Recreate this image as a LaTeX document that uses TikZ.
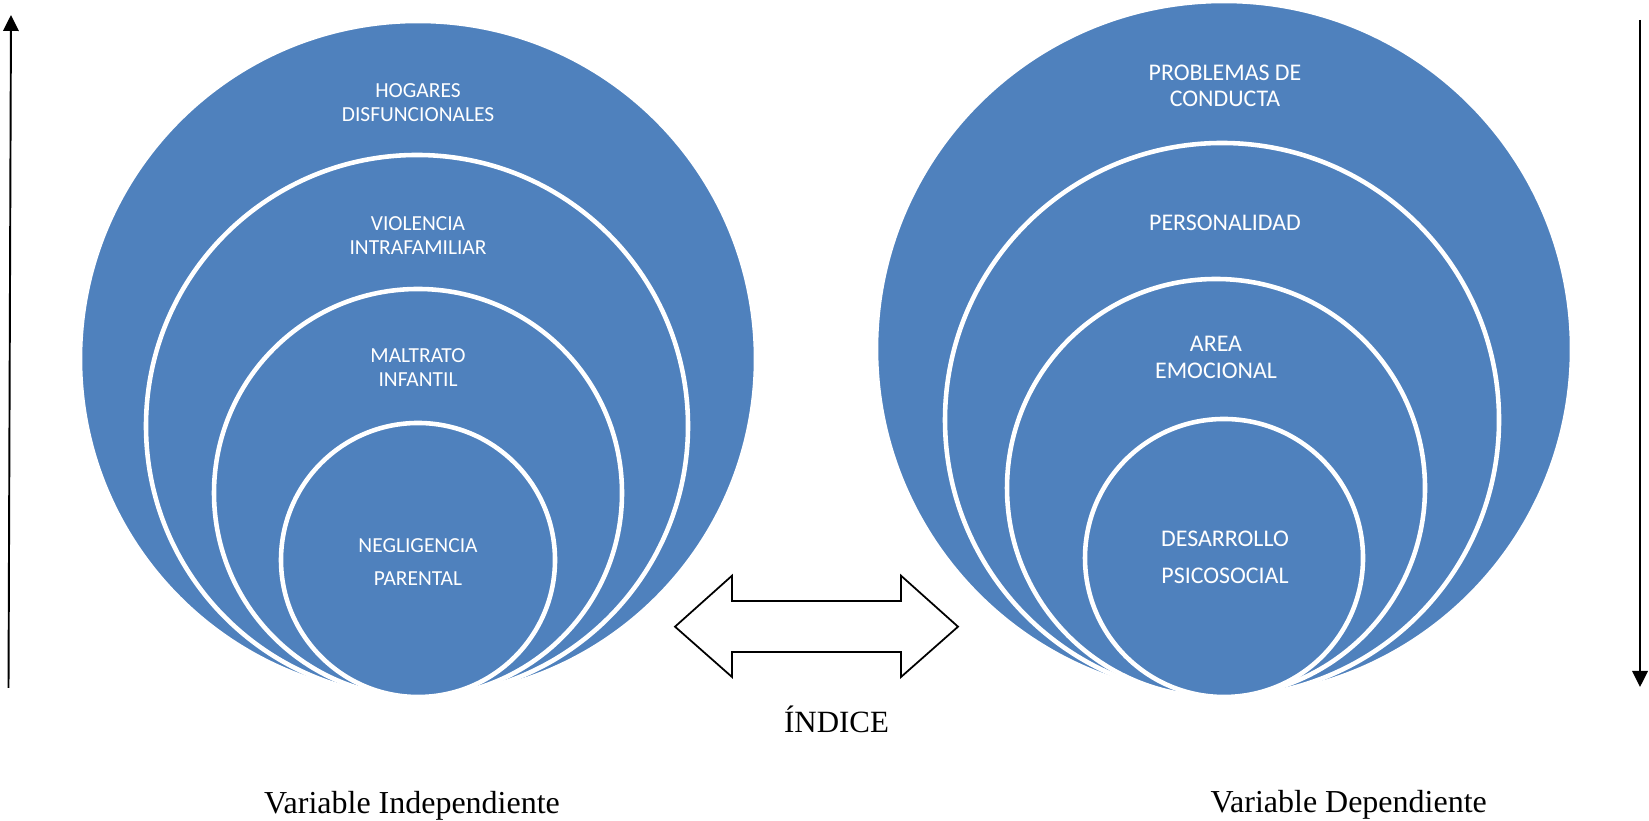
\documentclass[tikz,border=0pt]{standalone}
\usepackage{fontspec}
\setmainfont{Liberation Serif}
\newfontfamily\calibri{Carlito}
\usetikzlibrary{arrows.meta}
\definecolor{azulanillo}{HTML}{4F81BD}
\tikzset{
  anillo/.style={fill=azulanillo, draw=white, line width=1.3pt},
  rotulo/.style={text=white, align=center, inner sep=0pt, font=\calibri\fontsize{6.1}{6.8}\selectfont},
  rotuloder/.style={rotulo, font=\calibri\fontsize{6.8}{7.4}\selectfont},
  leyenda/.style={anchor=base, inner sep=0pt, font=\fontsize{9.1}{10}\selectfont},
  flecha/.style={line width=0.55pt, -{Triangle[length=0.16cm, width=0.155cm]}}
}
\begin{document}
\begin{tikzpicture}
            \useasboundingbox (0,0) rectangle (16.49,8.21);

            % Variable independiente
            \draw[anillo] (4.18,4.62) circle (3.38);
            \draw[anillo] (4.17,3.95) circle (2.71);
            \draw[anillo] (4.18,3.28) circle (2.04);
            \draw[anillo] (4.18,2.61) circle (1.37);

            \node[rotulo] (hogares) at (4.18,7.18) {HOGARES\\DISFUNCIONALES};
            \node[rotulo] (violencia) at (4.18,5.855) {VIOLENCIA\\INTRAFAMILIAR};
            \node[rotulo] (maltrato) at (4.18,4.535) {MALTRATO\\INFANTIL};
            \node[rotulo] (negligencia) at (4.18,2.585) {NEGLIGENCIA\\[2.6pt]PARENTAL};

            % Variable dependiente
            \draw[anillo] (12.24,4.72) circle (3.48);
            \draw[anillo] (12.22,4.01) circle (2.77);
            \draw[anillo] (12.16,3.33) circle (2.09);
            \draw[anillo] (12.24,2.63) circle (1.39);

            \node[rotuloder] (problemas) at (12.25,7.351) {PROBLEMAS DE\\CONDUCTA};
            \node[rotuloder] (personalidad) at (12.25,5.985) {PERSONALIDAD};
            \node[rotuloder] (area) at (12.16,4.637) {AREA\\[0.3pt]EMOCIONAL};
            \node[rotuloder] (desarrollo) at (12.25,2.635) {DESARROLLO\\[3.1pt]PSICOSOCIAL};

            % Flecha doble
            \draw[line width=0.5pt, fill=white] (6.75,1.943) -- (7.32,2.453) -- (7.32,2.20) -- (9.01,2.20)
                -- (9.01,2.453) -- (9.58,1.943) -- (9.01,1.44) -- (9.01,1.69) -- (7.32,1.69) -- (7.32,1.44) -- cycle;
            \node[leyenda, font=\fontsize{8.8}{10}\selectfont] (indice) at (8.365,0.883) {ÍNDICE};

            % Flechas laterales
            \coordinate (izqabajo) at (0.085,1.33);
            \coordinate (izqarriba) at (0.11,8.06);
            \coordinate (derarriba) at (16.40,8.01);
            \coordinate (derabajo) at (16.40,1.34);
            \draw[flecha] (izqabajo) -- (izqarriba);
            \draw[flecha] (derarriba) -- (derabajo);

            \node[leyenda] (independiente) at (4.12,0.077) {Variable Independiente};
            \node[leyenda] (dependiente) at (13.487,0.08) {Variable Dependiente};
        \end{tikzpicture}
\end{document}
